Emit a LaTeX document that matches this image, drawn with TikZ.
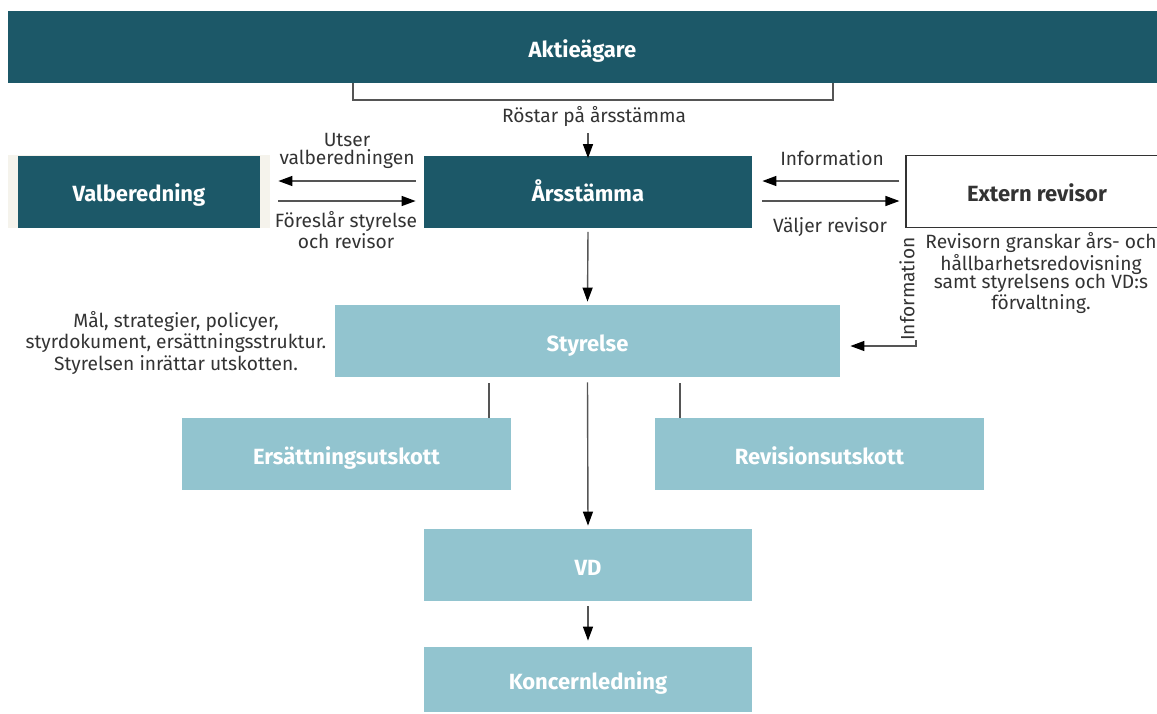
\documentclass[tikz,border=0pt]{standalone}
\usepackage{fontspec}
\setmainfont{Fira Sans}
\usetikzlibrary{arrows.meta, calc}
\definecolor{darkteal}{HTML}{1C5868}
\definecolor{lightteal}{HTML}{92C4CF}
\definecolor{beige}{HTML}{F5F3EC}
\definecolor{txtgrey}{HTML}{333333}
\definecolor{linegrey}{HTML}{555555}

\begin{document}
\begin{tikzpicture}[x=0.5pt, y=-0.5pt,
  darkbox/.style = {fill=darkteal, text=white, font=\bfseries\fontsize{11}{12}\selectfont, minimum height=36pt, inner sep=0pt, text height=10.4pt, text depth=0pt},
  lightbox/.style = {darkbox, fill=lightteal},
  note/.style = {text=txtgrey, font=\fontsize{9.6}{9.3}\selectfont, align=center, inner sep=0pt},
  arr/.style = {draw=linegrey, line width=0.7pt, -{Triangle[width=5pt, length=7pt, color=black]}},
  link/.style = {draw=linegrey, line width=0.6pt}]
\useasboundingbox (0,0) rectangle (1157,713);

% boxes
\node[darkbox, minimum width=574.5pt] (aktie) at (582.5,47) {Aktieägare};
\node[darkbox, minimum width=164pt] (arsst) at (588,191.5) {Årsstämma};
\node[fill=beige, minimum width=131pt, minimum height=36.5pt, inner sep=0pt] (valbg) at (139,191.5) {};
\node[darkbox, minimum width=121pt] (valb) at (139,191.5) {Valberedning};
\node[darkbox, fill=white, text=txtgrey, draw=txtgrey, line width=0.6pt, minimum width=131pt, minimum height=36pt] (extern) at (1037,191.5) {Extern revisor};
\node[lightbox, minimum width=252.5pt] (styr) at (587.5,341) {Styrelse};
\node[lightbox, minimum width=164.5pt] (ers) at (346.5,454) {Ersättningsutskott};
\node[lightbox, minimum width=164.5pt] (rev) at (819.5,454) {Revisionsutskott};
\node[lightbox, minimum width=164pt] (vd) at (588,565) {VD};
\node[lightbox, minimum width=164pt, minimum height=32.5pt] (konc) at (588,679.5) {Koncernledning};

% texts
\node[note] (rost) at (594,117) {Röstar på årsstämma};
\node[note] (utser) at (347,151) {Utser\\valberedningen};
\node[note] (foresl) at (346,230.5) {Föreslår styrelse\\och revisor};
\node[note] (info) at (832,158) {Information};
\node[note] (valjer) at (830,227) {Väljer revisor};
\node[note, rotate=90] (info2) at (907,289) {Information};
\node[note] (granskar) at (1041,273) {Revisorn granskar års- och\\hållbarhetsredovisning\\samt styrelsens och VD:s\\förvaltning.};
\node[note] (mal) at (176,343) {Mål, strategier, policyer,\\styrdokument, ersättningsstruktur.\\Styrelsen inrättar utskotten.};

% bracket and connectors
\draw[link] (353,83) -- (353,100) -- (833,100) -- (833,83);
\draw[arr] (rost.south -| arsst.north) ++(0,6) -- ([yshift=-1.5pt]arsst.north);
\draw[arr] ($(arsst.west)+(-8,-10.5)$) -- ($(valb.east)+(18,-10.5)$);
\draw[arr] ($(valb.east)+(18,9.5)$) -- ($(arsst.west)+(-8,9.5)$);
\draw[arr] ($(extern.west)+(-6,-10.5)$) -- ($(arsst.east)+(10,-10.5)$);
\draw[arr] ($(arsst.east)+(10,9.5)$) -- ($(extern.west)+(-6,9.5)$);
\coordinate (infoc) at (916,340);
\draw[arr] (infoc) |- ($(styr.east)+(10,5)$);
\draw[arr] ($(arsst.south)+(0,4)$) -- ($(styr.north)+(0,-3)$);
\draw[link] (489,383) -- (ers.north -| 489,0);
\draw[link] (680,383) -- (rev.north -| 680,0);
\draw[arr] ($(styr.south)+(0,5)$) -- ($(vd.north)+(0,-3)$);
\draw[arr] ($(vd.south)+(0,5)$) -- ($(konc.north)+(0,-6)$);
\end{tikzpicture}
\end{document}
